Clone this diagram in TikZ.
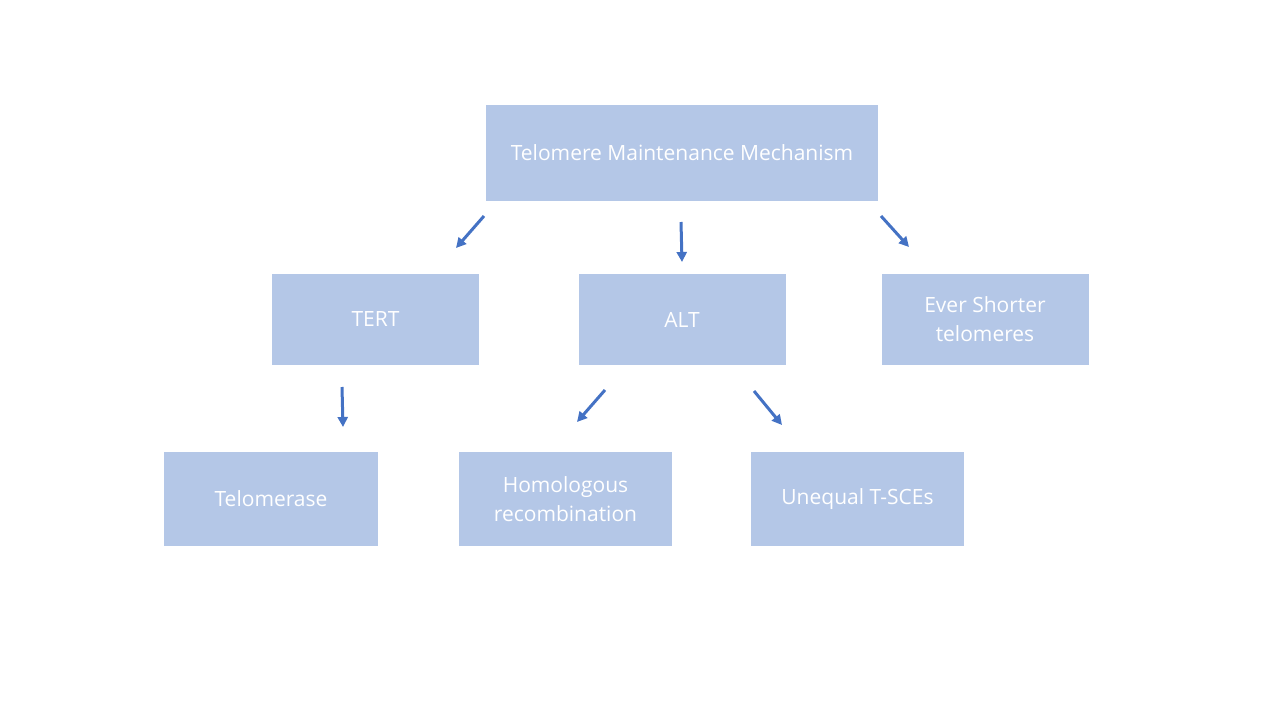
\documentclass[tikz,border=0pt]{standalone}
\usepackage{fontspec}
\setmainfont{Open Sans}
\usetikzlibrary{positioning, arrows.meta}
\definecolor{boxblue}{HTML}{B4C7E7}
\definecolor{arrowblue}{HTML}{4472C4}
\tikzset{
    mechbox/.style={fill=boxblue, text=white, minimum width=207pt, minimum height=91pt,
        align=center, inner sep=2pt, font=\fontsize{21}{29}\selectfont},
    mecharrow/.style={draw=arrowblue, line width=3pt,
        -{Triangle[length=10pt,width=10pt]}}
}
\begin{document}
\begin{tikzpicture}[x=1pt, y=-1pt]
        \useasboundingbox (0,0) rectangle (1280,720);

        % boxes
        \node[mechbox, minimum width=392pt, minimum height=96pt] (tmm) at (682,153) {Telomere Maintenance Mechanism};
        \node[mechbox] (tert) at (375.5,319.5) {TERT};
        \node[mechbox] (alt) at (682,319.5) {ALT};
        \node[mechbox] (esht) at (985,319.5) {Ever Shorter\\telomeres};
        \node[mechbox, minimum width=214pt, minimum height=94pt] (tase) at (271,499) {Telomerase};
        \node[mechbox, minimum width=213pt, minimum height=94pt] (homrec) at (565.5,499) {Homologous\\recombination};
        \node[mechbox, minimum width=213pt, minimum height=94pt] (tsce) at (857.5,499) {Unequal T-SCEs};

        % arrow end points
        \coordinate (a1s) at (484,216); \coordinate (a1e) at (456,248);
        \coordinate (a2s) at (681,222); \coordinate (a2e) at (682,262);
        \coordinate (a3s) at (881,216); \coordinate (a3e) at (909,247);
        \coordinate (a4s) at (342,387); \coordinate (a4e) at (343,427);
        \coordinate (a5s) at (605,390); \coordinate (a5e) at (577,422);
        \coordinate (a6s) at (754,391); \coordinate (a6e) at (782,425);

        % arrows
        \draw[mecharrow] (a1s) -- (a1e); % to TERT
        \draw[mecharrow] (a2s) -- (a2e); % to ALT
        \draw[mecharrow] (a3s) -- (a3e); % to ever shorter
        \draw[mecharrow] (a4s) -- (a4e); % to telomerase
        \draw[mecharrow] (a5s) -- (a5e); % to homologous
        \draw[mecharrow] (a6s) -- (a6e); % to T-SCEs
\end{tikzpicture}
\end{document}
